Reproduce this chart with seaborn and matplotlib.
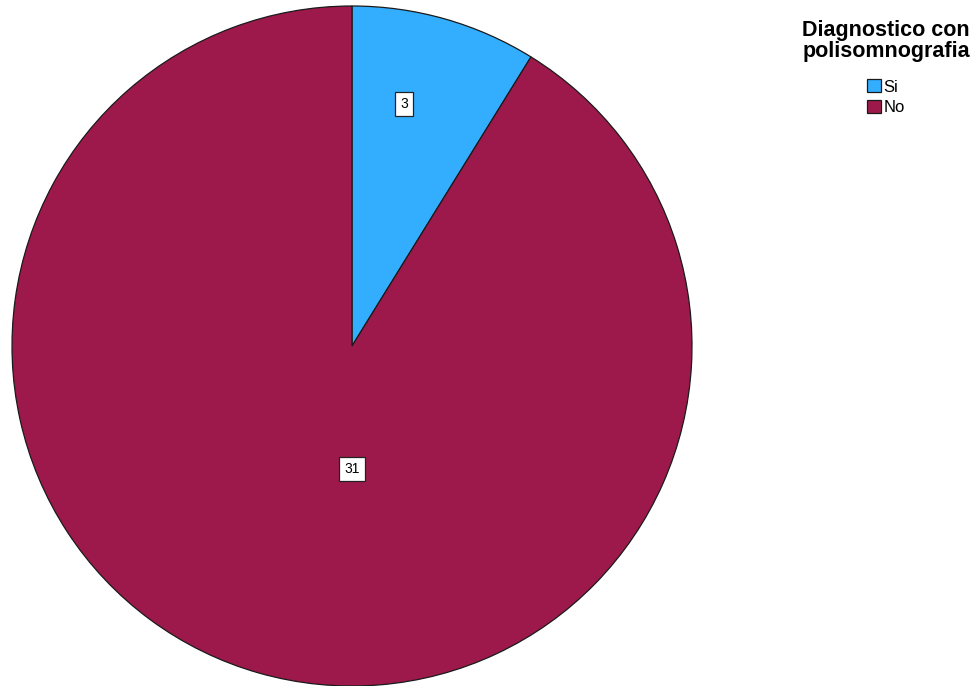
import matplotlib
matplotlib.use("Agg")
import matplotlib.pyplot as plt
import numpy as np
import seaborn as sns

categories = ["Si", "No"]
counts = [3, 31]
colors = ["#33AEFF", "#9E194B"]
legend_title = "Diagnostico con\npolisomnografia"

sns.set_style("white")
plt.rcParams['font.family'] = ['Liberation Sans', 'DejaVu Sans']
plt.rcParams['text.color'] = 'black'

fig = plt.figure(figsize=(9.78, 6.86), dpi=100)
ax = fig.add_axes([12/978, 0.0, 680/978, 680/686])

wedges, _ = ax.pie(counts, colors=colors, startangle=90, counterclock=False,
                   wedgeprops=dict(edgecolor="#1a1a1a", linewidth=0.9))
ax.set_xlim(-1, 1)
ax.set_ylim(-1, 1)
ax.set_aspect("equal")
ax.axis("off")

# value labels
label_pos = [(0.153, 0.712), (0.0, -0.362)]
for (x, y), c in zip(label_pos, counts):
    ax.text(x, y, str(c), ha="center", va="center", fontsize=10,
            bbox=dict(boxstyle="square,pad=0.35", facecolor="white",
                      edgecolor="#222222", linewidth=0.9))

leg = fig.legend(wedges, categories, loc="upper center",
                 bbox_to_anchor=(886/978, 1 - 8/686), frameon=False,
                 title=legend_title, fontsize=12, handlelength=0.85,
                 handleheight=0.85, handletextpad=0.15, labelspacing=0.3,
                 borderpad=0.2)
leg.get_title().set_fontweight("bold")
leg.get_title().set_fontsize(15.5)
leg.get_title().set_multialignment("center")
leg.get_title().set_linespacing(1.05)
leg._legend_box.align = "center"
leg._legend_box.sep = 12

fig.savefig("out.png", dpi=100)
